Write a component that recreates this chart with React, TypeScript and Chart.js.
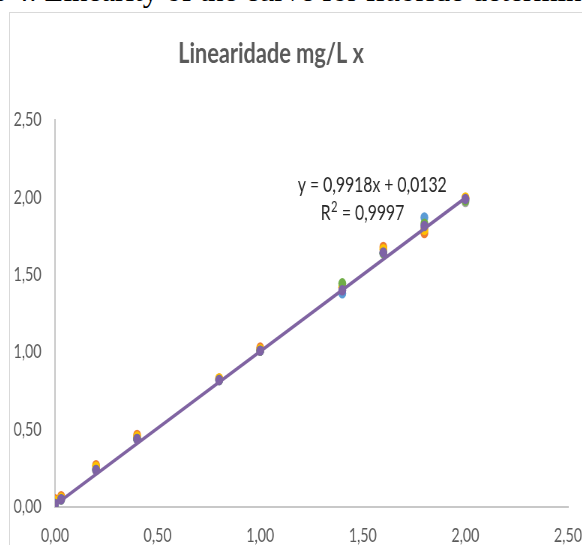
import React, { useEffect, useRef } from "react";
import { Chart, registerables } from "chart.js";

Chart.register(...registerables);

const xValues = [0, 0.03, 0.2, 0.4, 0.8, 1.0, 1.4, 1.6, 1.8, 2.0];
const seriesBlue = [0.0, 0.05, 0.24, 0.44, 0.82, 1.01, 1.38, 1.64, 1.87, 1.99];
const seriesOrange = [0.05, 0.07, 0.27, 0.465, 0.83, 1.03, 1.42, 1.68, 1.77, 1.995];
const seriesGray = [0.02, 0.05, 0.24, 0.44, 0.82, 1.01, 1.41, 1.64, 1.8, 1.97];
const seriesYellow = [0.04, 0.06, 0.26, 0.455, 0.83, 1.02, 1.42, 1.665, 1.79, 2.0];
const seriesGreen = [0.02, 0.05, 0.24, 0.44, 0.82, 1.01, 1.445, 1.64, 1.83, 1.98];
const seriesPurple = [0.02, 0.05, 0.24, 0.44, 0.82, 1.01, 1.4, 1.645, 1.815, 1.99];
const trendSlope = 0.9918;
const trendIntercept = 0.0132;
const trendX = [0, 2.0];
const axisTicks = [0, 0.5, 1.0, 1.5, 2.0, 2.5];
const titleText = "Linearidade mg/L x";
const equationText = "y = 0,9918x + 0,0132";
const r2Base = "R";
const r2Sup = "2";
const r2Rest = " = 0,9997";
const captionText = "e 4. Linearity of the curve for fluoride determination";

const S = 0.75;
const WU = 853;
const HU = 560;
const FONT = "Lato, 'Open Sans', sans-serif";

const toPts = (ys: number[]) => xValues.map((x, i) => ({ x, y: ys[i] }));
const fmt = (v: number) => v.toFixed(2).replace(".", ",");

const overlayPlugin = {
  id: "overlayText",
  afterDraw(chart: any) {
    const ctx = chart.ctx;
    const area = chart.chartArea;
    ctx.save();
    ctx.textAlign = "center";
    ctx.textBaseline = "alphabetic";
    ctx.fillStyle = "#595959";
    ctx.font = `bold 29px ${FONT}`;
    ctx.fillText(titleText, 348, 50);
    ctx.fillStyle = "#262626";
    ctx.font = `21px ${FONT}`;
    ctx.fillText(equationText, area.left + 423, area.top + 72);
    const big = `21px ${FONT}`;
    const small = `15px ${FONT}`;
    ctx.font = big;
    const wR = ctx.measureText(r2Base).width;
    const wRest = ctx.measureText(r2Rest).width;
    ctx.font = small;
    const wSup = ctx.measureText(r2Sup).width + 1;
    const total = wR + wSup + wRest;
    const cx = area.left + 410;
    const by = area.top + 100;
    const x0 = cx - total / 2;
    ctx.textAlign = "left";
    ctx.font = big;
    ctx.fillText(r2Base, x0, by);
    ctx.font = small;
    ctx.fillText(r2Sup, x0 + wR + 0.5, by - 8);
    ctx.font = big;
    ctx.fillText(r2Rest, x0 + wR + wSup, by);
    ctx.restore();
  },
};

export default function App() {
  const ref = useRef<HTMLCanvasElement | null>(null);
  useEffect(() => {
    if (!ref.current) return;
    const pt = { pointRadius: 5.2, pointHoverRadius: 5.2, pointBorderWidth: 0, showLine: false };
    const chart = new Chart(ref.current, {
      type: "scatter",
      data: {
        datasets: [
          {
            label: "Trend",
            data: trendX.map((x) => ({ x, y: trendSlope * x + trendIntercept })),
            showLine: true,
            borderColor: "#8064A2",
            borderWidth: 3.5,
            pointRadius: 0,
            pointHoverRadius: 0,
          } as any,
          { label: "S6", data: toPts(seriesPurple), backgroundColor: "#7E62A6", ...pt },
          { label: "S5", data: toPts(seriesGreen), backgroundColor: "#70AD47", ...pt },
          { label: "S4", data: toPts(seriesYellow), backgroundColor: "#FFC000", ...pt },
          { label: "S3", data: toPts(seriesGray), backgroundColor: "#A5A5A5", ...pt },
          { label: "S2", data: toPts(seriesOrange), backgroundColor: "#ED7D31", ...pt },
          { label: "S1", data: toPts(seriesBlue), backgroundColor: "#5B9BD5", ...pt },
        ],
      },
      options: {
        animation: false,
        responsive: true,
        maintainAspectRatio: false,
        layout: { padding: { top: 107, right: 109, bottom: 0, left: 0 } },
        plugins: { legend: { display: false }, title: { display: false }, tooltip: { enabled: false } },
        scales: {
          x: {
            type: "linear",
            min: 0,
            max: 2.5,
            afterBuildTicks: (scale: any) => {
              scale.ticks = axisTicks.map((v) => ({ value: v }));
            },
            afterFit: (scale: any) => {
              scale.height = 66;
            },
            grid: { display: false, drawTicks: false },
            border: { display: true, color: "#c8c8c8", width: 2 },
            ticks: {
              padding: 17,
              color: "#595959",
              font: { family: FONT, size: 19 },
              callback: (v: any) => fmt(Number(v)),
              maxRotation: 0,
            },
          },
          y: {
            type: "linear",
            min: 0,
            max: 2.5,
            afterBuildTicks: (scale: any) => {
              scale.ticks = axisTicks.map((v) => ({ value: v }));
            },
            afterFit: (scale: any) => {
              scale.width = 60;
            },
            grid: { display: false, drawTicks: false },
            border: { display: true, color: "#c8c8c8", width: 2 },
            ticks: {
              padding: 18,
              color: "#595959",
              font: { family: FONT, size: 19 },
              callback: (v: any) => fmt(Number(v)),
            },
          },
        },
      },
      plugins: [overlayPlugin],
    } as any);
    return () => chart.destroy();
  }, []);

  return (
    <div style={{ position: "fixed", left: 0, top: 0, width: 582, height: 545, overflow: "hidden", background: "#fff" }}>
      <div
        style={{
          position: "absolute",
          left: -8,
          top: -25,
          whiteSpace: "nowrap",
          fontFamily: "'Liberation Serif', 'Times New Roman', serif",
          fontSize: 31,
          lineHeight: "31px",
          color: "#000",
        }}
      >
        {captionText}
      </div>
      <div
        style={{
          position: "absolute",
          left: 9,
          top: 12,
          width: 640,
          height: 560,
          borderLeft: "1px solid #d9d9d9",
          borderTop: "1px solid #d9d9d9",
          boxSizing: "border-box",
          overflow: "hidden",
          background: "#fff",
        }}
      >
        <div
          style={{
            position: "absolute",
            left: 0,
            top: 0,
            width: WU,
            height: HU,
            transform: `scaleX(${S})`,
            transformOrigin: "0 0",
          }}
        >
          <canvas ref={ref} />
        </div>
      </div>
    </div>
  );
}
